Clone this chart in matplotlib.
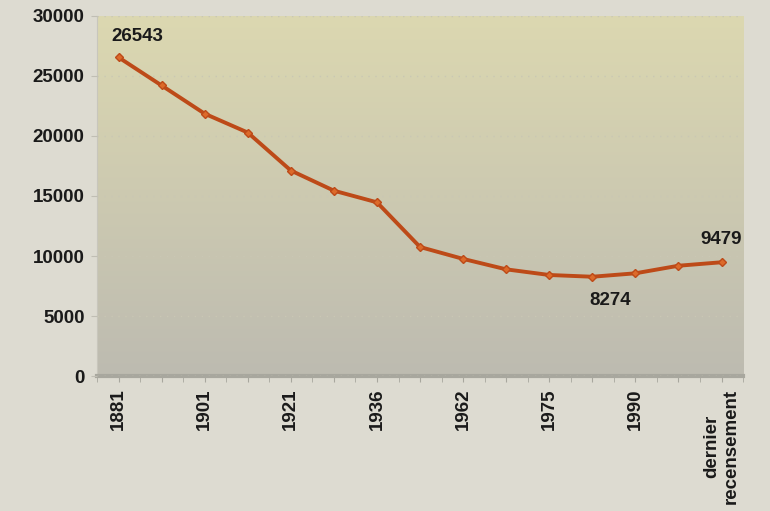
import numpy as np
import matplotlib
matplotlib.use("Agg")
import matplotlib.pyplot as plt
from matplotlib.colors import LinearSegmentedColormap

# Recensements (un point sur deux est étiqueté)
categories = ["1881", "1891", "1901", "1911", "1921", "1931", "1936", "1954",
              "1962", "1968", "1975", "1982", "1990", "1999", "dernier\nrecensement"]
population = [26543, 24200, 21850, 20280, 17120, 15440, 14470, 10750,
              9760, 8890, 8420, 8274, 8560, 9190, 9479]
labelled = ["1881", "1901", "1921", "1936", "1962", "1975", "1990", "dernier\nrecensement"]
annotated = {0: (0.44, 1750), 11: (0.42, -2000), 14: (0.0, 1900)}

plt.rcParams['font.family'] = ['Liberation Sans', 'DejaVu Sans']
FS = 13.5

fig = plt.figure(figsize=(7.7, 5.11), dpi=100)
fig.patch.set_facecolor("#dddbd1")
ax = fig.add_axes([0.126, 0.264, 0.839, 0.705])

# fond dégradé de la zone de tracé
grad = LinearSegmentedColormap.from_list("fond", ["#bdbbb0", "#dcd8b1"])
ax.imshow(np.linspace(0, 1, 256).reshape(-1, 1), cmap=grad, aspect="auto",
          extent=[-0.5, len(categories) - 0.5, 0, 30000], origin="lower", zorder=0)

x = np.arange(len(categories))
ax.plot(x, population, color="#bd4a18", lw=2.8, marker="D", markersize=4,
        markerfacecolor="#dc6a2a", markeredgecolor="#bd4a18", zorder=3)

for i, (dx, dy) in annotated.items():
    ax.text(x[i] + dx, population[i] + dy, str(population[i]), ha="center",
            va="center", fontsize=FS, fontweight="bold", color="#1a1a1a", zorder=4)

ax.set_xlim(-0.5, len(categories) - 0.5)
ax.set_ylim(0, 30000)
ax.set_yticks(np.arange(0, 30001, 5000))
ax.yaxis.grid(True, linestyle=(0, (1, 4)), color="#c9c7b4", lw=1)
ax.set_axisbelow(False)

ax.set_xticks(x)
ax.set_xticklabels([c if c in labelled else "" for c in categories], rotation=90,
                   fontsize=FS, fontweight="bold", va="top", ha="center",
                   multialignment="center", linespacing=1.25, color="#1a1a1a")
ax.set_xticks(np.arange(-0.5, len(categories), 1.0), minor=True)
ax.tick_params(axis="x", which="both", length=4, color="#a8a79e", pad=5)
ax.tick_params(axis="y", length=4, color="#c0beb4", pad=5)
for lab in ax.get_yticklabels():
    lab.set_fontsize(FS)
    lab.set_fontweight("bold")
    lab.set_color("#1a1a1a")

for s in ["top", "right"]:
    ax.spines[s].set_visible(False)
ax.spines["left"].set_color("#c8c6bc")
ax.spines["bottom"].set_color("#a8a79e")
ax.spines["bottom"].set_linewidth(3)

fig.savefig("out.png", dpi=100, facecolor=fig.get_facecolor())
